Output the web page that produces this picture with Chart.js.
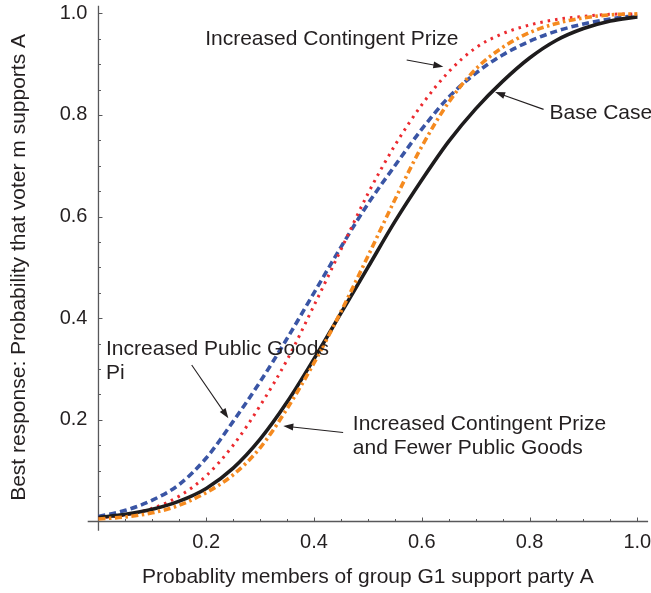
<!DOCTYPE html>
<html>
<head>
<meta charset="utf-8">
<script src="https://cdn.jsdelivr.net/npm/chart.js@4.4.1/dist/chart.umd.min.js"></script>
<style>
    html, body { margin: 0; padding: 0; background: #fff; }
    #wrap { width: 651px; height: 593px; }
</style>
</head>
<body>
<div id="wrap"><canvas id="chart" width="651" height="593"></canvas></div>
<script>
// Probability that members of group G1 support party A
const xs = [0, 0.05, 0.1, 0.15, 0.2, 0.25, 0.3, 0.35, 0.4, 0.45, 0.5,
            0.55, 0.6, 0.65, 0.7, 0.75, 0.8, 0.85, 0.9, 0.95, 1.0];

// Best response curves
const baseCase        = [0.008, 0.014, 0.024, 0.040, 0.065, 0.105, 0.162, 0.235, 0.320, 0.410, 0.500,
                         0.590, 0.672, 0.748, 0.812, 0.866, 0.912, 0.947, 0.970, 0.985, 0.993];
const publicGoods     = [0.010, 0.022, 0.042, 0.073, 0.125, 0.197, 0.275, 0.360, 0.450, 0.540, 0.625,
                         0.700, 0.772, 0.835, 0.882, 0.918, 0.945, 0.965, 0.979, 0.989, 0.996];
const contingentPrize = [0.007, 0.013, 0.026, 0.050, 0.090, 0.150, 0.228, 0.318, 0.425, 0.535, 0.645,
                         0.740, 0.820, 0.885, 0.932, 0.960, 0.977, 0.988, 0.994, 0.998, 0.999];
const prizeFewerGoods = [0.005, 0.009, 0.017, 0.032, 0.057, 0.092, 0.145, 0.222, 0.312, 0.413, 0.522,
                         0.633, 0.738, 0.825, 0.890, 0.933, 0.962, 0.980, 0.991, 0.997, 0.999];

const tickValues = [0.2, 0.4, 0.6, 0.8, 1.0];
const tickLabels = ['0.2', '0.4', '0.6', '0.8', '1.0'];

const FONT = "'Liberation Sans', Arial, Helvetica, sans-serif";
const INK = '#231f20';

function toPoints(ys) {
    return xs.map((x, i) => ({ x: x, y: ys[i] }));
}

// Labels with arrows, anchored in data units
const notes = [
    { lines: ['Increased Contingent Prize'], x: 0.198, y: 0.937, from: [0.572, 0.908], to: [0.640, 0.895] },
    { lines: ['Base Case'], x: 0.837, y: 0.793, from: [0.826, 0.811], to: [0.736, 0.845] },
    { lines: ['Increased Public Goods', 'Pi'], x: 0.014, y: 0.327, from: [0.173, 0.308], to: [0.241, 0.203] },
    { lines: ['Increased Contingent Prize', 'and Fewer Public Goods'], x: 0.472, y: 0.181, from: [0.454, 0.175], to: [0.343, 0.188] }
];

const axesPlugin = {
    id: 'axes',
    beforeDatasetsDraw(chart) {
        const { ctx, chartArea, scales: { x, y } } = chart;
        const x0 = x.getPixelForValue(0);
        const y0 = y.getPixelForValue(0);
        ctx.save();
        ctx.strokeStyle = '#58585a';
        ctx.lineWidth = 1.3;
        ctx.beginPath();
        ctx.moveTo(chartArea.left, y0); ctx.lineTo(chartArea.right, y0);
        ctx.moveTo(x0, chartArea.top); ctx.lineTo(x0, chartArea.bottom);
        ctx.stroke();

        // major + minor ticks, pointing into the plot
        ctx.lineWidth = 1;
        ctx.beginPath();
        for (let i = 1; i <= 20; i++) {
            const len = i % 4 === 0 ? 4 : 2.5;
            const px = Math.round(x.getPixelForValue(i / 20)) + 0.5;
            ctx.moveTo(px, y0); ctx.lineTo(px, y0 - len);
            const py = Math.round(y.getPixelForValue(i / 20)) + 0.5;
            ctx.moveTo(x0, py); ctx.lineTo(x0 + len, py);
        }
        ctx.stroke();

        // tick labels
        ctx.fillStyle = INK;
        ctx.font = '20px ' + FONT;
        ctx.textAlign = 'center';
        ctx.textBaseline = 'alphabetic';
        tickValues.forEach((v, i) => ctx.fillText(tickLabels[i], x.getPixelForValue(v), y0 + 26));
        ctx.textAlign = 'right';
        ctx.textBaseline = 'middle';
        tickValues.forEach((v, i) => ctx.fillText(tickLabels[i], x0 - 11, y.getPixelForValue(v)));

        // axis titles
        ctx.font = '21px ' + FONT;
        ctx.textAlign = 'center';
        ctx.textBaseline = 'alphabetic';
        ctx.fillText('Probablity members of group G1 support party A', x.getPixelForValue(0.5), 583);
        ctx.save();
        ctx.translate(25, y.getPixelForValue(0.5));
        ctx.rotate(-Math.PI / 2);
        ctx.fillText('Best response: Probability that voter m supports A', 0, 0);
        ctx.restore();
        ctx.restore();
    },
    afterDatasetsDraw(chart) {
        const { ctx, scales: { x, y } } = chart;
        ctx.save();
        ctx.fillStyle = INK;
        ctx.strokeStyle = INK;
        ctx.font = '21px ' + FONT;
        ctx.textAlign = 'left';
        ctx.textBaseline = 'alphabetic';
        notes.forEach(n => {
            const tx = x.getPixelForValue(n.x);
            const ty = y.getPixelForValue(n.y);
            n.lines.forEach((s, i) => ctx.fillText(s, tx, ty + i * 24));

            const ax = x.getPixelForValue(n.from[0]), ay = y.getPixelForValue(n.from[1]);
            const bx = x.getPixelForValue(n.to[0]), by = y.getPixelForValue(n.to[1]);
            const ang = Math.atan2(by - ay, bx - ax);
            ctx.lineWidth = 1.1;
            ctx.beginPath();
            ctx.moveTo(ax, ay);
            ctx.lineTo(bx - 7 * Math.cos(ang), by - 7 * Math.sin(ang));
            ctx.stroke();
            ctx.beginPath();
            ctx.moveTo(bx, by);
            ctx.lineTo(bx - 10 * Math.cos(ang) + 3.5 * Math.sin(ang), by - 10 * Math.sin(ang) - 3.5 * Math.cos(ang));
            ctx.lineTo(bx - 10 * Math.cos(ang) - 3.5 * Math.sin(ang), by - 10 * Math.sin(ang) + 3.5 * Math.cos(ang));
            ctx.closePath();
            ctx.fill();
        });
        ctx.restore();
    }
};

const common = { pointRadius: 0, fill: false, cubicInterpolationMode: 'monotone', borderCapStyle: 'butt' };

new Chart(document.getElementById('chart'), {
    type: 'line',
    data: {
        datasets: [
            { ...common, label: 'Increased Contingent Prize and Fewer Public Goods', data: toPoints(prizeFewerGoods),
              borderColor: '#f58a1f', borderWidth: 3.6, borderDash: [7, 3.5, 2.5, 3.5] },
            { ...common, label: 'Base Case', data: toPoints(baseCase),
              borderColor: '#1e1c1d', borderWidth: 3.6 },
            { ...common, label: 'Increased Contingent Prize', data: toPoints(contingentPrize),
              borderColor: '#ec2a2f', borderWidth: 3, borderDash: [2.5, 5] },
            { ...common, label: 'Increased Public Goods', data: toPoints(publicGoods),
              borderColor: '#3a55a5', borderWidth: 3.6, borderDash: [7, 4] }
        ]
    },
    options: {
        responsive: false,
        animation: false,
        devicePixelRatio: 1,
        layout: { padding: { left: 87.7, right: 2.9, top: 5.7, bottom: 62.35 } },
        plugins: { legend: { display: false }, tooltip: { enabled: false } },
        scales: {
            x: { type: 'linear', min: -0.02, max: 1.02, display: false },
            y: { type: 'linear', min: -0.018, max: 1.015, display: false }
        }
    },
    plugins: [axesPlugin]
});
</script>
</body>
</html>
